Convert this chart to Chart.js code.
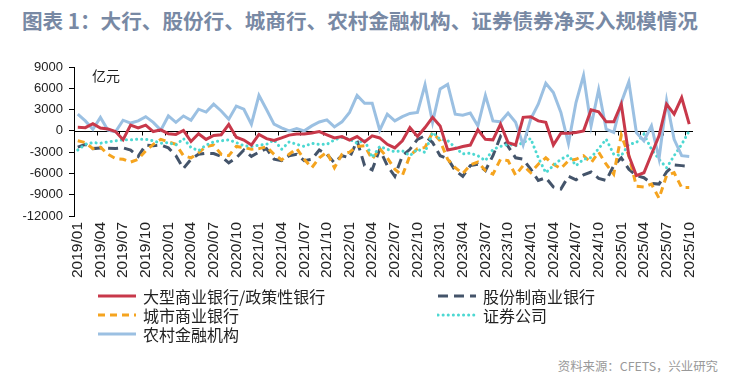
<!DOCTYPE html>
<html>
<head>
<meta charset="utf-8">
<script src="https://cdn.jsdelivr.net/npm/chart.js@4.4.0/dist/chart.umd.min.js"></script>
<style>
  body { margin: 0; background: #fff; width: 737px; height: 379px; overflow: hidden; position: relative; font-family: "Noto Sans CJK SC", sans-serif; }
  #title { position: absolute; left: 22px; top: 5px; font-size: 20.6px; font-weight: bold; color: #7889a4; white-space: nowrap; }
  #chart { position: absolute; left: 0; top: 0; }
  #unit { position: absolute; left: 92px; top: 65px; font-size: 14px; color: #222; }
  .leg { position: absolute; height: 19px; display: flex; align-items: center; font-size: 16px; color: #222; white-space: nowrap; }
  .leg svg { margin-right: 6px; }
  #source { position: absolute; right: 19px; top: 357px; font-size: 12.4px; color: #999; white-space: nowrap; }
</style>
</head>
<body>
<div id="title">图表 1：大行、股份行、城商行、农村金融机构、证券债券净买入规模情况</div>
<canvas id="chart" width="737" height="290"></canvas>
<div id="unit">亿元</div>
<div id="legend"></div>
<div id="source">资料来源：CFETS，兴业研究</div>
<script>
// categories: monthly, 2019/01 - 2025/10
const years = ["2019", "2020", "2021", "2022", "2023", "2024", "2025"];
const months = ["01","02","03","04","05","06","07","08","09","10","11","12"];
const labels = [];
years.forEach(y => months.forEach(m => { if (!(y === "2025" && +m > 10)) labels.push(y + "/" + m); }));

const yTicks = [9000, 6000, 3000, 0, -3000, -6000, -9000, -12000];

// 大型商业银行/政策性银行
const bigBanks = [500,450,1000,400,250,-100,-1250,800,400,800,-100,150,-400,-500,50,-1500,-400,-1200,-650,-550,
  900,-900,-1300,-2000,-500,-1100,-1350,-1000,-600,-450,-450,-300,-100,-560,-1000,-800,-1300,-800,-1550,-700,
  -1000,-1900,-2400,-1400,470,-800,470,1900,700,-2700,-2500,-2200,-2000,140,-1200,-1270,940,-1650,-2000,1900,
  2000,1400,1200,-2000,-330,-330,-240,0,2960,2680,1270,1270,3760,-3500,-6300,-5900,-3300,-700,3760,2350,4700,940];
// 股份制商业银行
const jointStock = [-2300,-1900,-2500,-2400,-2450,-2500,-2400,-2700,-3600,-2000,-2100,-2000,-2400,-3500,-5300,-4000,-3300,-3150,-3200,-3600,
  -4500,-3800,-2700,-3600,-3000,-2500,-4000,-4200,-3500,-3300,-4200,-4000,-2700,-3300,-4500,-3500,-3800,-1400,-4900,-5500,
  -2600,-4900,-6400,-3500,-2600,-1200,-700,-1650,-3500,-3900,-5600,-6400,-4900,-4700,-5600,-3500,-800,-2200,-3800,-4000,
  -5400,-7000,-6600,-7900,-8200,-6400,-6900,-6200,-5800,-6700,-7000,-4900,-3800,-5400,-6300,-6600,-7400,-7500,-5800,-4800,-4900,-5000];
// 城市商业银行
const cityBanks = [-1400,-1650,-2500,-2300,-3300,-3900,-4000,-4400,-4000,-2800,-1900,-1200,-1550,-1900,-3500,-3800,-3100,-2200,-2000,-3300,
  -3500,-2200,-2350,-2600,-2500,-2250,-3300,-4100,-3300,-2500,-4000,-5200,-3800,-3000,-5200,-3300,-3000,-2200,-2100,-4000,
  -2500,-3800,-5400,-6300,-3500,-2500,-2350,-230,-1400,-4000,-5200,-6000,-4800,-4400,-5600,-6100,-4000,-4200,-6250,-4900,
  -5900,-4700,-3800,-4700,-5300,-4200,-4000,-3500,-4500,-3000,-4700,-6100,-600,-3500,-7800,-7900,-7500,-9500,-6300,-5900,-8000,-8000];
// 证券公司
const brokers = [-2700,-1900,-1650,-1750,-1550,-1400,-1270,-1270,-1180,-1180,-1400,-1750,-1650,-2000,-1080,-2350,-2800,-2000,-1550,-1400,
  -1270,-1650,-2100,-2200,-2000,-1900,-1270,-2600,-1550,-1900,-2200,-1750,-1900,-1900,-1270,-940,-1180,-1750,-1270,-3760,
  -2200,-2600,-2950,-2800,-3500,-2600,-3050,-230,-1180,-1350,-2350,-3250,-3150,-3500,-4200,-2600,-2200,-1900,-2100,-1650,
  -1080,-3760,-5900,-4900,-4000,-3450,-4900,-4000,-3760,-2500,-1180,-3300,-3500,-1900,-1650,-470,-2600,-4000,-5200,-3500,-1900,0];
// 农村金融机构
const ruralInst = [2350,1400,230,1900,100,-150,1500,1100,1400,2000,1200,100,2100,1200,2100,1500,3050,2650,3760,2800,
  1650,3500,3050,940,5000,3000,940,430,0,330,0,700,1250,1550,560,1270,2600,5000,3900,3900,
  100,2350,1400,2000,2450,2600,6500,1200,5900,6550,2350,2200,2500,700,5000,1400,1270,2500,1200,-2000,
  1650,3760,6700,5400,2600,-1800,4000,7800,700,5800,230,-230,4000,6900,-230,-1400,700,-3900,4250,-1200,-3500,-3600];

const series = [
  { label: "大型商业银行/政策性银行", data: bigBanks, color: "#C8384A", dash: [], cap: "butt" },
  { label: "股份制商业银行", data: jointStock, color: "#44546A", dash: [10, 6], cap: "butt" },
  { label: "城市商业银行", data: cityBanks, color: "#F5A41F", dash: [7, 5], cap: "butt" },
  { label: "证券公司", data: brokers, color: "#4DD8D2", dash: [0.1, 5], cap: "round" },
  { label: "农村金融机构", data: ruralInst, color: "#9BC0E2", dash: [], cap: "butt" }
];

// zero line with category tick marks (axis crosses at 0)
const zeroLine = {
  id: "zeroLine",
  beforeDatasetsDraw(chart) {
    const { ctx, chartArea: a, scales: { x, y } } = chart;
    const y0 = Math.round(y.getPixelForValue(0)) + 0.5;
    const half = (x.getPixelForValue(1) - x.getPixelForValue(0)) / 2;
    ctx.save();
    ctx.strokeStyle = "#000";
    ctx.lineWidth = 1;
    ctx.beginPath();
    ctx.moveTo(a.left, y0);
    ctx.lineTo(a.right, y0);
    for (let i = 0; i < labels.length; i += 3) {
      const px = Math.round(x.getPixelForValue(i) - half) + 0.5;
      ctx.moveTo(px, y0);
      ctx.lineTo(px, y0 + 4);
    }
    ctx.stroke();
    ctx.restore();
  }
};

new Chart(document.getElementById("chart"), {
  type: "line",
  data: {
    labels: labels,
    datasets: series.map((s, i) => ({
      label: s.label,
      data: s.data,
      borderColor: s.color,
      backgroundColor: s.color,
      borderWidth: 3,
      borderDash: s.dash,
      borderCapStyle: s.cap,
      pointRadius: 0,
      tension: 0,
      fill: false,
      order: i === 0 ? 0 : 5 - i
    }))
  },
  options: {
    responsive: false,
    animation: false,
    devicePixelRatio: 1,
    layout: { padding: { top: 67, right: 44, left: 0, bottom: 0 } },
    plugins: { legend: { display: false }, tooltip: { enabled: false } },
    scales: {
      x: {
        offset: true,
        grid: { display: false, drawTicks: false },
        border: { display: false },
        ticks: {
          autoSkip: false,
          minRotation: 90,
          maxRotation: 90,
          padding: 6,
          color: "#222",
          font: { family: "Liberation Sans", size: 15.5 },
          callback: (v, i) => (i % 3 === 0 ? labels[i] : null)
        },
        afterFit(s) { s.height = 74; }
      },
      y: {
        min: -12000,
        max: 9000,
        afterBuildTicks(s) { s.ticks = yTicks.map(v => ({ value: v })); },
        ticks: { color: "#222", padding: 6, font: { family: "Liberation Sans", size: 13 }, callback: v => String(v) },
        grid: { drawOnChartArea: false, drawTicks: true, tickLength: 5, color: "#000" },
        border: { display: true, color: "#000", width: 1 },
        afterFit(s) { s.width = 74; }
      }
    }
  },
  plugins: [zeroLine]
});

// two-column legend
const legendPos = [[97, 286], [437, 286], [97, 305], [437, 305], [97, 324]];
const legend = document.getElementById("legend");
series.forEach((s, n) => {
  const d = document.createElement("div");
  d.className = "leg";
  d.style.left = legendPos[n][0] + "px";
  d.style.top = legendPos[n][1] + "px";
  const dash = s.dash.length ? s.dash.join(",") : "none";
  d.innerHTML = '<svg width="40" height="6"><line x1="1" y1="3" x2="39" y2="3" stroke="' + s.color +
    '" stroke-width="3" stroke-dasharray="' + dash + '" stroke-linecap="' + s.cap + '"/></svg><span>' + s.label + '</span>';
  legend.appendChild(d);
});
</script>
</body>
</html>
